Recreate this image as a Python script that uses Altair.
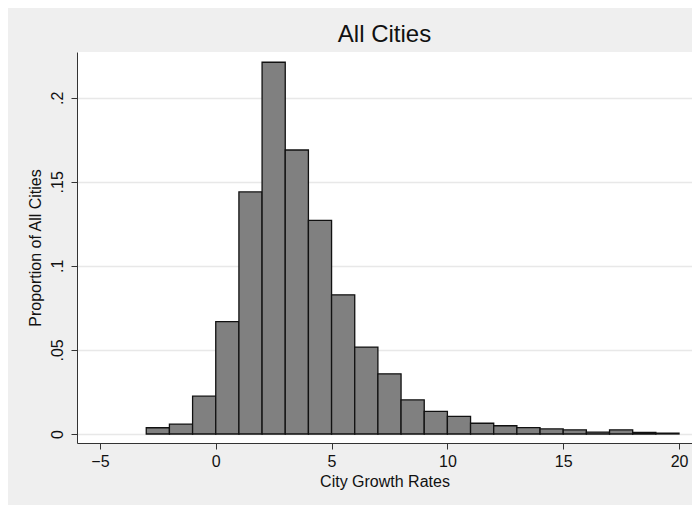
import altair as alt
import pandas as pd

# Histogram of city growth rates: bins of width 1 from -3 to 20
bin_start = list(range(-3, 20))
bin_end = [b + 1 for b in bin_start]
proportion = [
    0.0037, 0.0059, 0.0225, 0.0668, 0.1440, 0.2211, 0.1689, 0.1271,
    0.0828, 0.0517, 0.0358, 0.0203, 0.0135, 0.0105, 0.0064, 0.0049,
    0.0038, 0.0030, 0.0025, 0.0011, 0.0025, 0.0009, 0.0005,
]

y_ticks = [0, 0.05, 0.1, 0.15, 0.2]
x_ticks = [-5, 0, 5, 10, 15, 20]

df = pd.DataFrame({"start": bin_start, "end": bin_end, "prop": proportion})

FONT = "Liberation Sans"

bars = alt.Chart(df).mark_bar(
    color="#808080", stroke="#111111", strokeWidth=1.3
).encode(
    x=alt.X(
        "start:Q",
        scale=alt.Scale(domain=[-5.99, 20.56], nice=False, zero=False),
        axis=alt.Axis(
            title="City Growth Rates",
            values=x_ticks,
            grid=False,
            tickSize=6,
            labelPadding=4,
            titlePadding=4,
        ),
    ),
    x2="end:Q",
    y=alt.Y(
        "prop:Q",
        scale=alt.Scale(domain=[-0.00536, 0.2272], nice=False, zero=False),
        axis=alt.Axis(
            title="Proportion of All Cities",
            values=y_ticks,
            grid=True,
            gridColor="#E8E8E8",
            gridWidth=1.5,
            tickSize=6,
            labelAngle=-90,
            labelAlign="center",
            labelBaseline="alphabetic",
            labelPadding=9,
            titlePadding=6,
            labelExpr="datum.value == 0 ? '0' : replace(format(datum.value, '.2~f'), '0.', '.')",
        ),
    ),
    y2=alt.datum(0),
)

chart = bars.properties(
    width=615,
    height=391,
    title=alt.TitleParams(
        "All Cities",
        fontSize=24,
        font=FONT,
        fontWeight="normal",
        color="#111111",
        anchor="middle",
        baseline="alphabetic",
        offset=-14,
    ),
    background="#EFEFEF",
    padding={"left": 69, "top": 44, "right": 0, "bottom": 62},
    autosize=alt.AutoSizeParams(type="none"),
).configure_view(
    fill="white", stroke=None
).configure_axis(
    domainColor="#333333",
    domainWidth=1,
    tickColor="#333333",
    tickWidth=1,
    labelFont=FONT,
    labelFontSize=16,
    labelColor="#111111",
    titleFont=FONT,
    titleFontSize=16,
    titleFontWeight="normal",
    titleColor="#111111",
)

chart.save("out.html", embed_options={"renderer": "svg", "actions": False})
